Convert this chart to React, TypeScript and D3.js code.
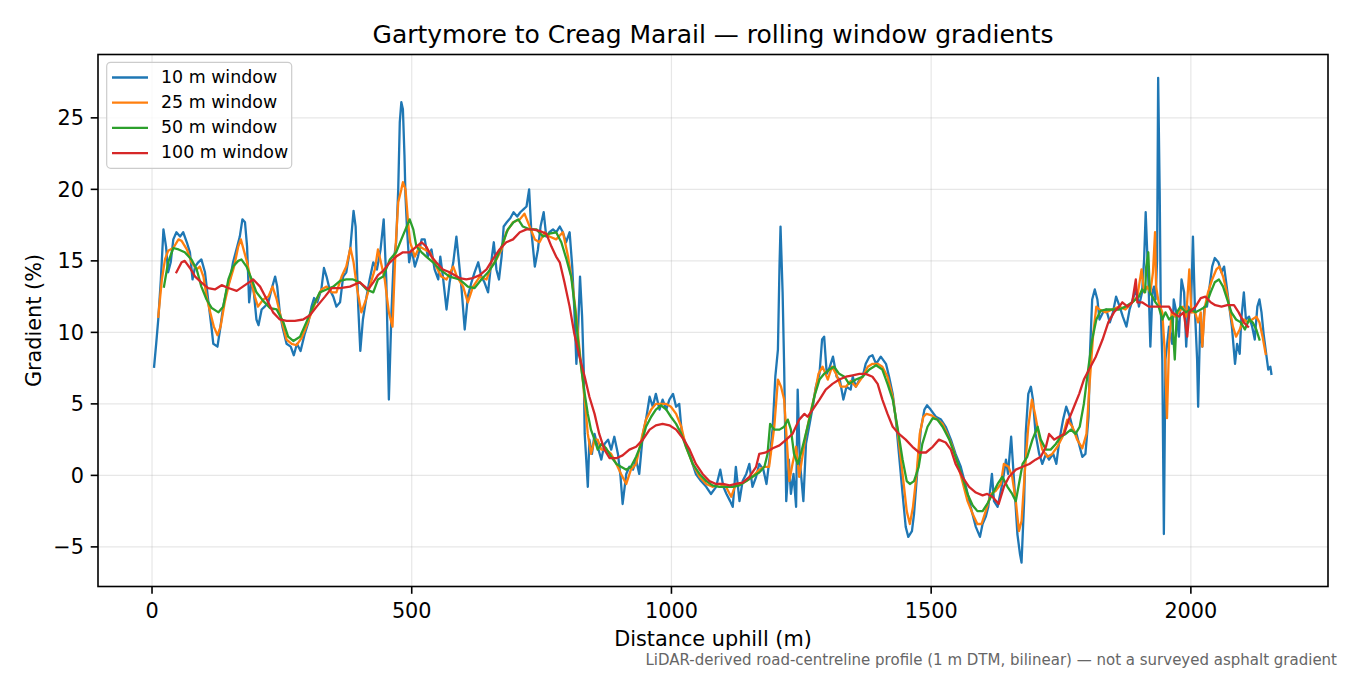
import * as d3 from 'd3';

// rolling-window gradients, [distance m, gradient %]
const w10: [number, number][] = [
  [4,7.6],[8,9.2],[12,10.9],[17,13.7],[22,17.2],[27,16.0],[31,14.2],[36,14.9],[41,16.5],[47,17.0],[54,16.7],[60,17.0],[67,16.3],[73,15.6],[78,13.7],[83,14.6],[89,14.9],[95,15.1],[102,14.2],[108,12.3],[115,10.2],[118,9.2],[126,9.0],[131,10.2],[137,11.8],[144,13.0],[150,13.7],[156,14.9],[164,16.0],[169,16.7],[174,17.9],[179,17.7],[183,16.0],[187,12.1],[192,13.7],[196,12.8],[201,10.9],[205,10.5],[211,11.6],[217,11.8],[224,12.1],[230,13.0],[237,13.9],[241,13.2],[246,11.4],[251,10.4],[259,9.2],[267,9.0],[273,8.4],[279,9.2],[286,8.7],[294,9.9],[301,10.7],[307,11.8],[312,12.4],[318,12.1],[326,13.0],[331,14.5],[336,13.9],[342,13.0],[349,12.5],[355,11.8],[362,12.1],[368,13.9],[374,14.2],[382,16.0],[388,18.5],[392,17.4],[397,11.8],[401,8.7],[406,10.9],[413,12.5],[419,13.7],[426,14.9],[433,14.4],[440,15.8],[446,17.9],[451,13.7],[456,5.3],[461,11.4],[465,14.9],[470,16.3],[474,20.0],[477,24.7],[480,26.1],[483,25.6],[486,22.4],[488,19.5],[491,17.2],[495,14.9],[500,15.8],[506,14.6],[512,15.3],[519,16.5],[525,16.5],[531,15.3],[538,15.8],[544,14.4],[551,13.7],[555,15.3],[560,13.9],[567,11.6],[573,13.5],[580,14.9],[586,16.7],[591,14.9],[596,13.0],[602,10.2],[608,12.5],[615,13.5],[621,14.2],[628,14.9],[634,13.9],[640,13.5],[647,12.8],[653,14.9],[658,16.3],[663,14.4],[668,13.7],[673,15.3],[677,17.4],[683,17.7],[690,18.0],[696,18.4],[703,18.1],[709,18.4],[715,18.6],[721,18.8],[726,20.0],[730,17.2],[737,14.6],[743,15.8],[748,17.4],[754,18.4],[759,16.7],[765,17.0],[772,17.2],[778,17.0],[785,17.4],[791,17.0],[797,16.3],[804,17.0],[809,14.6],[813,11.6],[817,7.8],[820,9.9],[824,13.9],[828,11.1],[831,7.6],[833,2.9],[836,1.1],[839,-0.8],[842,2.5],[847,1.5],[852,2.9],[858,2.0],[865,1.1],[871,2.2],[878,2.5],[884,1.8],[890,2.7],[897,1.5],[902,-0.1],[906,-2.0],[913,0.1],[919,0.6],[926,0.4],[932,1.1],[938,0.1],[945,2.9],[951,3.9],[958,5.5],[964,4.8],[970,5.7],[977,4.6],[983,5.3],[990,4.6],[996,5.3],[1003,5.7],[1009,4.8],[1015,5.0],[1020,2.9],[1028,2.2],[1038,1.1],[1047,0.1],[1057,-0.4],[1067,-0.8],[1076,-1.3],[1086,-0.8],[1094,0.4],[1100,-0.8],[1106,-1.3],[1113,-1.8],[1118,-2.2],[1124,0.6],[1131,-1.8],[1137,-0.4],[1144,0.1],[1150,0.8],[1156,-0.8],[1163,-0.1],[1169,0.8],[1177,0.4],[1183,-0.6],[1190,1.5],[1195,3.4],[1200,6.9],[1205,8.8],[1208,14.6],[1210,17.4],[1214,12.8],[1217,7.6],[1221,-1.8],[1226,1.1],[1230,-1.3],[1235,0.1],[1240,-2.2],[1243,6.0],[1247,1.1],[1254,-1.8],[1259,2.2],[1265,3.4],[1272,4.8],[1278,6.2],[1285,7.1],[1290,9.5],[1294,9.7],[1299,7.1],[1305,7.6],[1311,8.3],[1318,6.9],[1324,6.7],[1331,5.3],[1337,6.2],[1345,6.0],[1349,6.9],[1355,6.2],[1362,6.7],[1368,6.9],[1374,7.8],[1381,8.3],[1387,8.4],[1394,7.8],[1403,8.3],[1413,7.8],[1419,6.9],[1426,5.7],[1432,3.9],[1438,1.5],[1445,-1.3],[1451,-3.6],[1456,-4.3],[1463,-3.9],[1467,-2.7],[1474,0.6],[1480,3.2],[1487,4.6],[1492,4.9],[1499,4.6],[1509,4.1],[1519,3.9],[1528,3.4],[1538,2.5],[1547,1.5],[1557,0.6],[1567,-0.8],[1576,-2.2],[1586,-3.6],[1594,-4.3],[1599,-3.4],[1605,-2.9],[1610,-2.2],[1617,0.1],[1621,-1.8],[1628,-2.2],[1634,-1.1],[1638,-0.4],[1644,1.1],[1648,0.1],[1654,2.7],[1660,-0.6],[1666,-4.1],[1671,-5.5],[1674,-6.1],[1679,-1.8],[1682,2.9],[1687,5.7],[1692,6.2],[1696,5.3],[1701,2.9],[1708,1.5],[1714,0.8],[1721,1.5],[1727,1.1],[1735,1.5],[1741,0.8],[1747,2.5],[1754,3.9],[1760,4.8],[1767,4.1],[1773,3.2],[1780,2.9],[1786,2.0],[1791,1.3],[1797,1.5],[1803,4.1],[1806,8.8],[1810,12.3],[1815,13.0],[1820,12.3],[1824,10.9],[1831,11.4],[1837,11.6],[1844,10.7],[1850,11.4],[1856,12.5],[1863,11.8],[1869,11.1],[1876,10.4],[1882,11.6],[1888,12.3],[1895,13.0],[1900,11.8],[1906,12.8],[1910,15.1],[1913,18.4],[1916,15.6],[1919,12.8],[1922,9.0],[1926,12.8],[1929,13.2],[1932,12.3],[1935,15.1],[1937,27.8],[1940,19.8],[1942,11.8],[1945,8.1],[1948,-4.1],[1951,8.1],[1958,10.4],[1964,9.2],[1967,12.3],[1972,11.4],[1977,9.7],[1982,13.7],[1987,12.8],[1991,9.0],[1995,11.8],[2000,11.4],[2004,16.7],[2008,11.4],[2012,8.1],[2014,4.8],[2018,10.9],[2022,9.0],[2026,11.8],[2031,11.8],[2036,13.2],[2041,14.6],[2046,15.2],[2053,14.9],[2059,14.2],[2064,14.6],[2069,13.2],[2074,11.8],[2079,10.4],[2085,7.8],[2089,9.2],[2094,8.5],[2097,10.9],[2102,12.8],[2106,10.9],[2112,11.1],[2118,10.4],[2123,9.5],[2128,11.8],[2132,12.3],[2136,11.4],[2140,9.9],[2145,8.5],[2149,7.4],[2153,7.6],[2155,7.1],
];

const w25: [number, number][] = [
  [12,11.1],[19,13.7],[25,15.1],[31,15.7],[41,15.9],[51,16.5],[57,16.4],[67,15.8],[76,14.9],[86,14.4],[92,14.6],[99,13.9],[105,12.5],[112,11.4],[119,10.4],[126,9.8],[132,10.4],[140,12.1],[149,13.5],[158,14.6],[166,16.0],[171,16.5],[177,15.7],[183,14.9],[190,13.7],[198,12.5],[204,11.8],[214,12.3],[224,12.5],[232,13.2],[240,12.3],[249,10.9],[259,9.5],[269,9.2],[278,9.1],[288,9.6],[297,10.4],[307,11.4],[317,12.3],[326,13.0],[336,13.2],[346,12.8],[355,12.8],[365,13.9],[374,14.6],[382,15.9],[388,14.9],[395,13.0],[403,11.4],[412,12.3],[419,13.2],[429,14.4],[435,15.8],[440,15.0],[448,13.7],[456,11.4],[463,10.4],[469,16.0],[474,19.1],[480,20.0],[483,20.5],[488,20.0],[493,17.7],[497,16.3],[506,15.3],[515,16.0],[525,15.8],[535,15.6],[547,14.6],[557,13.9],[567,13.7],[580,14.6],[587,13.9],[599,13.2],[608,12.1],[618,13.2],[631,13.9],[644,13.7],[653,14.6],[663,15.1],[673,15.8],[682,17.0],[695,17.7],[708,17.9],[717,18.3],[727,17.4],[737,16.5],[746,16.3],[756,17.0],[765,16.7],[778,16.5],[791,17.0],[801,15.3],[809,13.5],[817,11.1],[823,8.8],[830,6.4],[836,4.1],[839,2.9],[845,1.5],[852,2.5],[858,2.5],[865,1.8],[874,1.8],[884,1.5],[894,0.8],[903,0.1],[913,-0.6],[922,0.4],[932,0.8],[942,2.5],[951,3.9],[961,4.6],[970,5.0],[980,5.0],[990,5.0],[999,4.8],[1009,4.3],[1019,3.4],[1028,2.0],[1041,0.8],[1054,-0.1],[1067,-0.6],[1079,-0.8],[1092,-0.6],[1105,-0.8],[1115,-1.5],[1124,-0.6],[1134,-0.6],[1144,-0.4],[1156,-0.1],[1169,0.4],[1179,0.6],[1188,0.6],[1198,3.4],[1205,6.7],[1211,6.2],[1217,5.3],[1222,2.5],[1227,-0.4],[1233,0.8],[1240,2.0],[1246,-0.1],[1253,1.5],[1259,2.9],[1267,4.3],[1275,5.5],[1283,7.1],[1291,7.6],[1301,6.7],[1309,7.6],[1317,7.1],[1326,6.2],[1336,6.2],[1345,6.6],[1355,6.2],[1368,6.9],[1378,7.6],[1387,7.8],[1397,7.8],[1406,7.6],[1416,6.9],[1426,5.5],[1435,3.2],[1445,0.1],[1453,-2.5],[1459,-3.4],[1465,-2.2],[1472,0.1],[1478,2.9],[1485,4.1],[1491,4.3],[1501,4.2],[1512,3.9],[1522,3.6],[1531,2.9],[1541,2.0],[1551,0.8],[1560,-0.4],[1570,-1.8],[1580,-2.7],[1589,-3.4],[1597,-3.4],[1605,-2.5],[1615,-1.3],[1624,-1.1],[1634,-0.6],[1640,0.8],[1649,0.6],[1656,-0.1],[1663,-1.8],[1669,-3.9],[1674,-3.2],[1681,0.6],[1687,3.4],[1694,5.3],[1700,4.3],[1707,2.9],[1714,1.8],[1724,1.3],[1733,1.5],[1743,2.0],[1753,2.7],[1762,3.9],[1772,3.4],[1781,2.5],[1791,1.9],[1799,2.9],[1805,6.4],[1812,9.9],[1818,11.8],[1824,11.6],[1836,11.4],[1849,11.6],[1862,11.8],[1874,11.6],[1887,12.1],[1897,12.5],[1905,14.4],[1910,12.8],[1916,13.2],[1922,12.8],[1927,14.2],[1931,17.0],[1933,13.2],[1938,12.1],[1945,11.4],[1950,8.5],[1954,4.0],[1958,9.2],[1963,11.4],[1970,11.1],[1977,11.4],[1985,11.8],[1991,11.1],[1997,14.4],[2001,11.4],[2008,11.4],[2014,10.7],[2019,11.4],[2022,9.0],[2027,11.8],[2033,12.8],[2041,13.7],[2049,14.4],[2055,14.6],[2062,13.9],[2068,13.0],[2074,11.8],[2081,10.4],[2087,9.7],[2094,10.2],[2102,10.9],[2110,10.7],[2118,10.9],[2126,11.1],[2132,10.7],[2138,9.7],[2144,8.5],
];

const w50: [number, number][] = [
  [23,13.2],[31,14.9],[41,15.9],[51,15.8],[63,15.6],[76,15.1],[86,14.4],[95,13.2],[105,12.3],[115,11.7],[128,11.4],[137,11.8],[147,13.7],[156,14.6],[166,15.0],[172,15.1],[182,14.6],[192,13.7],[201,12.8],[214,12.2],[227,11.7],[240,11.6],[253,10.7],[262,9.7],[272,9.4],[285,9.7],[297,10.7],[310,11.8],[323,12.8],[336,13.0],[349,13.2],[362,13.6],[374,13.7],[387,13.7],[400,13.5],[413,13.0],[426,12.8],[435,13.7],[445,13.9],[458,15.1],[470,15.6],[480,16.5],[488,17.2],[496,17.9],[503,17.2],[509,16.0],[519,15.6],[528,15.3],[541,14.9],[554,14.4],[573,13.9],[592,13.7],[608,13.2],[621,13.1],[634,13.7],[647,14.2],[660,14.9],[673,16.0],[685,17.2],[696,17.7],[705,17.9],[714,17.4],[727,17.2],[740,17.2],[753,16.7],[765,16.9],[778,17.0],[788,16.3],[798,15.1],[807,13.9],[814,11.8],[820,9.5],[826,7.6],[833,5.7],[839,4.3],[845,3.2],[852,2.5],[858,1.8],[865,2.2],[874,1.9],[884,1.3],[894,0.8],[903,0.6],[913,0.4],[922,0.6],[932,1.3],[942,2.2],[951,3.4],[961,4.1],[970,4.6],[980,4.9],[990,4.6],[999,4.1],[1009,3.6],[1019,2.9],[1028,2.0],[1041,0.8],[1054,0.1],[1067,-0.4],[1079,-0.7],[1092,-0.8],[1105,-0.8],[1118,-0.8],[1131,-0.7],[1144,-0.4],[1156,-0.1],[1169,0.2],[1179,0.6],[1185,1.5],[1190,3.6],[1198,3.2],[1208,3.2],[1217,3.4],[1224,3.9],[1230,3.2],[1236,1.5],[1243,0.8],[1249,1.5],[1256,2.5],[1262,3.4],[1268,4.3],[1275,5.5],[1285,6.7],[1294,7.1],[1304,7.4],[1313,7.6],[1323,7.1],[1333,6.9],[1342,6.4],[1355,6.7],[1368,6.9],[1381,7.4],[1394,7.7],[1406,7.4],[1416,6.4],[1426,5.3],[1435,3.4],[1445,1.1],[1453,-0.4],[1459,-0.6],[1467,-0.4],[1476,0.6],[1483,2.2],[1493,3.4],[1503,4.0],[1512,3.9],[1522,3.4],[1535,2.5],[1547,1.3],[1560,-0.1],[1570,-1.3],[1580,-2.1],[1589,-2.5],[1599,-2.5],[1608,-2.0],[1618,-1.3],[1628,-0.6],[1637,-0.1],[1647,-0.8],[1656,-1.3],[1663,-1.8],[1669,-0.6],[1676,0.8],[1685,1.3],[1695,2.5],[1705,3.4],[1711,2.5],[1721,1.8],[1730,1.8],[1740,2.2],[1749,2.7],[1759,2.9],[1769,3.2],[1778,2.9],[1786,3.4],[1794,5.0],[1803,7.6],[1810,9.5],[1818,10.9],[1826,11.5],[1836,11.6],[1849,11.6],[1862,11.6],[1874,11.8],[1887,12.1],[1900,12.5],[1906,13.0],[1912,12.8],[1914,14.6],[1918,15.6],[1921,12.8],[1926,12.5],[1932,12.1],[1938,11.8],[1945,10.9],[1951,11.4],[1958,10.9],[1964,11.1],[1969,8.1],[1973,11.4],[1980,11.8],[1990,11.4],[2000,11.6],[2009,11.4],[2019,11.6],[2028,11.8],[2038,12.8],[2046,13.5],[2054,13.7],[2062,13.2],[2070,12.3],[2078,11.4],[2087,10.9],[2096,10.7],[2104,10.2],[2112,10.9],[2119,10.7],[2126,10.2],[2132,9.5],
];

const w100: [number, number][] = [
  [47,14.2],[57,14.9],[63,15.0],[73,14.5],[83,13.9],[95,13.5],[108,13.1],[121,13.0],[134,13.3],[147,13.1],[163,12.9],[179,13.3],[195,13.7],[208,13.2],[221,12.3],[233,11.4],[246,10.9],[259,10.8],[275,10.8],[291,10.9],[304,11.2],[317,11.8],[333,12.5],[346,13.1],[362,13.1],[381,13.2],[400,13.5],[416,13.0],[426,13.5],[435,14.0],[445,14.3],[458,14.9],[470,15.3],[483,15.6],[496,15.6],[509,16.0],[519,16.3],[528,16.0],[538,15.3],[547,14.9],[560,14.4],[573,14.2],[592,13.8],[605,13.7],[618,13.8],[631,14.0],[644,14.4],[656,15.1],[669,15.8],[682,16.3],[695,16.5],[708,17.0],[721,17.2],[733,17.2],[746,17.1],[759,16.9],[769,16.0],[778,15.3],[785,14.9],[794,13.5],[804,11.8],[813,9.9],[823,8.3],[833,6.9],[842,5.5],[852,4.3],[861,2.9],[871,1.8],[881,1.2],[894,1.2],[906,1.4],[919,1.8],[932,2.0],[945,2.5],[958,3.2],[970,3.5],[983,3.6],[996,3.5],[1009,3.2],[1022,2.6],[1035,1.8],[1047,0.8],[1060,0.1],[1073,-0.4],[1086,-0.6],[1099,-0.6],[1112,-0.7],[1124,-0.6],[1137,-0.5],[1150,-0.1],[1163,0.6],[1169,1.5],[1182,1.6],[1195,1.9],[1208,2.1],[1221,2.5],[1233,2.9],[1246,3.9],[1256,4.3],[1262,4.1],[1272,4.6],[1285,5.3],[1297,6.0],[1310,6.4],[1323,6.7],[1336,6.9],[1349,7.0],[1362,7.1],[1374,7.1],[1387,6.9],[1397,6.4],[1406,5.3],[1416,4.3],[1426,3.4],[1438,2.9],[1451,2.5],[1464,2.0],[1477,1.6],[1490,1.6],[1503,2.0],[1515,2.5],[1528,2.3],[1538,1.8],[1547,0.8],[1560,-0.1],[1573,-0.8],[1586,-1.2],[1599,-1.4],[1608,-1.3],[1618,-1.5],[1630,-2.0],[1640,-0.8],[1650,-0.1],[1663,0.4],[1676,0.6],[1689,0.8],[1701,1.1],[1711,1.3],[1721,2.0],[1727,2.9],[1737,2.5],[1746,2.7],[1756,2.9],[1765,3.9],[1775,4.8],[1785,5.7],[1794,6.7],[1804,7.4],[1817,8.3],[1830,9.5],[1841,10.7],[1852,11.4],[1862,11.8],[1868,12.1],[1878,11.8],[1887,12.1],[1894,13.7],[1897,12.1],[1906,12.1],[1919,11.8],[1932,11.8],[1945,11.8],[1958,11.8],[1964,11.4],[1977,11.1],[1986,11.4],[1993,9.7],[1997,11.4],[2009,11.8],[2019,12.4],[2028,12.5],[2038,12.1],[2047,11.9],[2059,11.8],[2070,11.9],[2083,11.9],[2092,11.4],[2102,10.7],[2110,10.4],
];

const seriesNames = ['10 m window', '25 m window', '50 m window', '100 m window'];
const seriesColors = ['#1f77b4', '#ff7f0e', '#2ca02c', '#d62728'];
const xTicks = [0, 500, 1000, 1500, 2000];
const yTicks = [-5, 0, 5, 10, 15, 20, 25];

const W = 1350, H = 675;
const box = { left: 98, right: 1328, top: 54.5, bottom: 586.5 };
const FONT = 'DejaVu Sans, sans-serif';

export default function App() {
  const x = d3.scaleLinear().domain([-104, 2264]).range([box.left, box.right]);
  const y = d3.scaleLinear().domain([-7.77, 29.43]).range([box.bottom, box.top]);
  const line = d3.line<[number, number]>().x((d) => x(d[0])).y((d) => y(d[1]));
  const all = [w10, w25, w50, w100];
  const fmt = (v: number) => (v < 0 ? '\u2212' + Math.abs(v) : String(v));

  return (
    <svg width={W} height={H} style={{ position: 'absolute', left: 0, top: 0, background: '#fff' }} fontFamily={FONT}>
      <rect x={0} y={0} width={W} height={H} fill="#fff" />
      <defs>
        <clipPath id="plot"><rect x={box.left} y={box.top} width={box.right - box.left} height={box.bottom - box.top} /></clipPath>
      </defs>
      {/* grid */}
      <g stroke="#b0b0b0" strokeOpacity={0.3} strokeWidth={1.2}>
        {xTicks.map((t) => <line key={'gx' + t} x1={x(t)} x2={x(t)} y1={box.top} y2={box.bottom} />)}
        {yTicks.map((t) => <line key={'gy' + t} x1={box.left} x2={box.right} y1={y(t)} y2={y(t)} />)}
      </g>
      {/* series */}
      <g clipPath="url(#plot)" fill="none" strokeWidth={2.3} strokeLinejoin="round" strokeLinecap="square">
        {all.map((s, i) => <path key={i} d={line(s) ?? ''} stroke={seriesColors[i]} />)}
      </g>
      {/* frame */}
      <rect x={box.left} y={box.top} width={box.right - box.left} height={box.bottom - box.top} fill="none" stroke="#000" strokeWidth={1.6} />
      {/* x ticks */}
      {xTicks.map((t) => (
        <g key={'xt' + t}>
          <line x1={x(t)} x2={x(t)} y1={box.bottom} y2={box.bottom + 7.3} stroke="#000" strokeWidth={1.6} />
          <text x={x(t)} y={618} textAnchor="middle" fontSize={20.8}>{fmt(t)}</text>
        </g>
      ))}
      {yTicks.map((t) => (
        <g key={'yt' + t}>
          <line x1={box.left - 7.3} x2={box.left} y1={y(t)} y2={y(t)} stroke="#000" strokeWidth={1.6} />
          <text x={84} y={y(t) + 7.6} textAnchor="end" fontSize={20.8}>{fmt(t)}</text>
        </g>
      ))}
      <text x={(box.left + box.right) / 2} y={646} textAnchor="middle" fontSize={20.8}>Distance uphill (m)</text>
      <text transform={`translate(41,${(box.top + box.bottom) / 2}) rotate(-90)`} textAnchor="middle" fontSize={20.8}>Gradient (%)</text>
      <text x={(box.left + box.right) / 2} y={42.5} textAnchor="middle" fontSize={25}>Gartymore to Creag Marail — rolling window gradients</text>
      <text x={1337} y={665} textAnchor="end" fontSize={15} fill="#666">LiDAR-derived road-centreline profile (1 m DTM, bilinear) — not a surveyed asphalt gradient</text>
      {/* legend */}
      <g>
        <rect x={106.7} y={62.3} width={185} height={106} rx={4} fill="#fff" fillOpacity={0.8} stroke="#cccccc" strokeWidth={1.2} />
        {seriesNames.map((n, i) => {
          const cy = 77.5 + i * 25.2;
          return (
            <g key={n}>
              <line x1={112} x2={148} y1={cy} y2={cy} stroke={seriesColors[i]} strokeWidth={2.3} />
              <text x={161} y={cy + 5} fontSize={17.4}>{n}</text>
            </g>
          );
        })}
      </g>
    </svg>
  );
}
